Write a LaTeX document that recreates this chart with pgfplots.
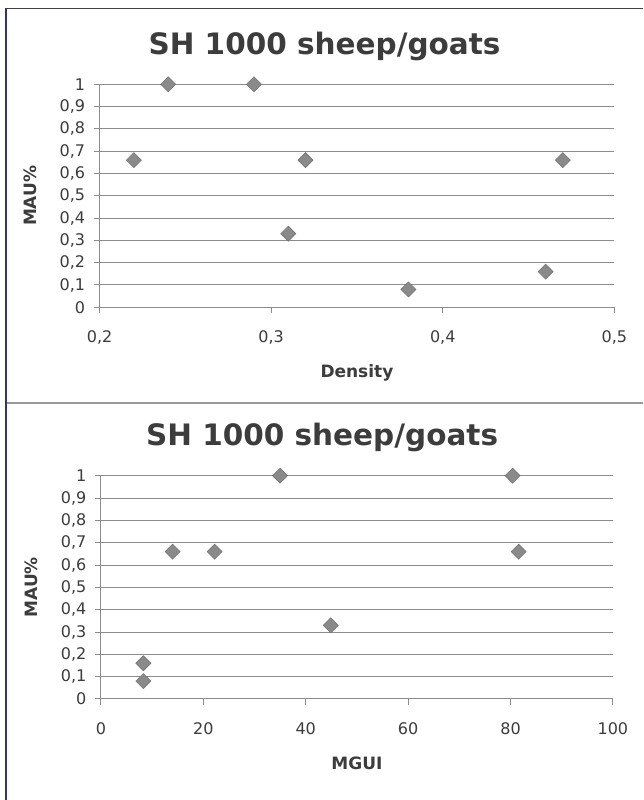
\documentclass[border=0pt]{standalone}
\usepackage{fontspec}
\setmainfont{DejaVu Sans}
\usepackage{pgfplots}
\pgfplotsset{compat=1.18}
\definecolor{txt}{HTML}{3C3C3C}
\definecolor{gridc}{HTML}{8C8C8C}
\definecolor{mk}{HTML}{8A8A8A}
\definecolor{mkd}{HTML}{747474}
\pgfplotsset{
  mystyle/.style={
    scale only axis,
    clip=false,
    ymin=0, ymax=1,
    ytick={0,0.1,0.2,0.3,0.4,0.5,0.6,0.7,0.8,0.9,1},
    axis lines*=left,
    axis line style={gridc, line width=1pt},
    ymajorgrids,
    grid style={gridc, line width=1pt},
    tick align=outside,
    major tick length=6pt,
    tick style={gridc, line width=1pt},
    /pgf/number format/.cd, use comma, fixed, precision=2, assume math mode=true,
    /pgfplots/.cd,
    ticklabel style={font=\fontsize{16}{16}\selectfont, text=txt},
    xticklabel style={anchor=north, yshift=-14pt},
    yticklabel style={anchor=east, xshift=-5pt},
    title style={font=\bfseries\fontsize{29.5}{29.5}\selectfont, text=txt,
      at={(axis description cs:0.437,1.108)}, anchor=base},
    xlabel style={font=\bfseries\fontsize{17}{17}\selectfont, text=txt,
      at={(axis description cs:0.5,-0.315)}, anchor=base},
    ylabel style={font=\bfseries\fontsize{17}{17}\selectfont, text=txt,
      at={(axis description cs:-0.135,0.5)}, anchor=center},
    ylabel={MAU\%},
    title={SH 1000 sheep/goats},
  },
  mymarks/.style={only marks, mark=square*, mark size=5.3pt,
    mark options={rotate=45, fill=mk, draw=mkd, line width=0.6pt}},
}
\begin{document}
\begin{tikzpicture}[x=1pt,y=1pt]
\path[use as bounding box] (0,0) rectangle (643,800);
\fill[white] (0,0) rectangle (643,800);
% frames
\draw[color=black!75, line width=1.5pt] (5.5,791.5) -- (643,791.5);
\draw[color=black!40, line width=1.5pt] (5.5,397) -- (643,397);
\draw[color=black!70!blue!80, line width=2pt] (5.5,791.5) -- (5.5,0);

\begin{axis}[mystyle,
  at={(99.6pt,492.7pt)}, anchor=south west,
  width=514.7pt, height=223pt,
  xmin=0.2, xmax=0.5, xtick={0.2,0.3,0.4,0.5},
  xlabel={Density}]
\addplot[mymarks] table {
x y
0.22 0.66
0.24 1
0.29 1
0.31 0.33
0.32 0.66
0.38 0.08
0.46 0.16
0.47 0.66
};
\end{axis}

\begin{axis}[mystyle,
  at={(100.9pt,101pt)}, anchor=south west,
  width=512pt, height=223.3pt,
  xmin=0, xmax=100, xtick={0,20,40,60,80,100},
  xlabel={MGUI},
  title style={at={(axis description cs:0.432,1.108)}}]
\addplot[mymarks] table {
x y
8.3 0.16
8.3 0.08
14 0.66
22.2 0.66
35 1
44.9 0.33
80.4 1
81.6 0.66
};
\end{axis}
\end{tikzpicture}
\end{document}
